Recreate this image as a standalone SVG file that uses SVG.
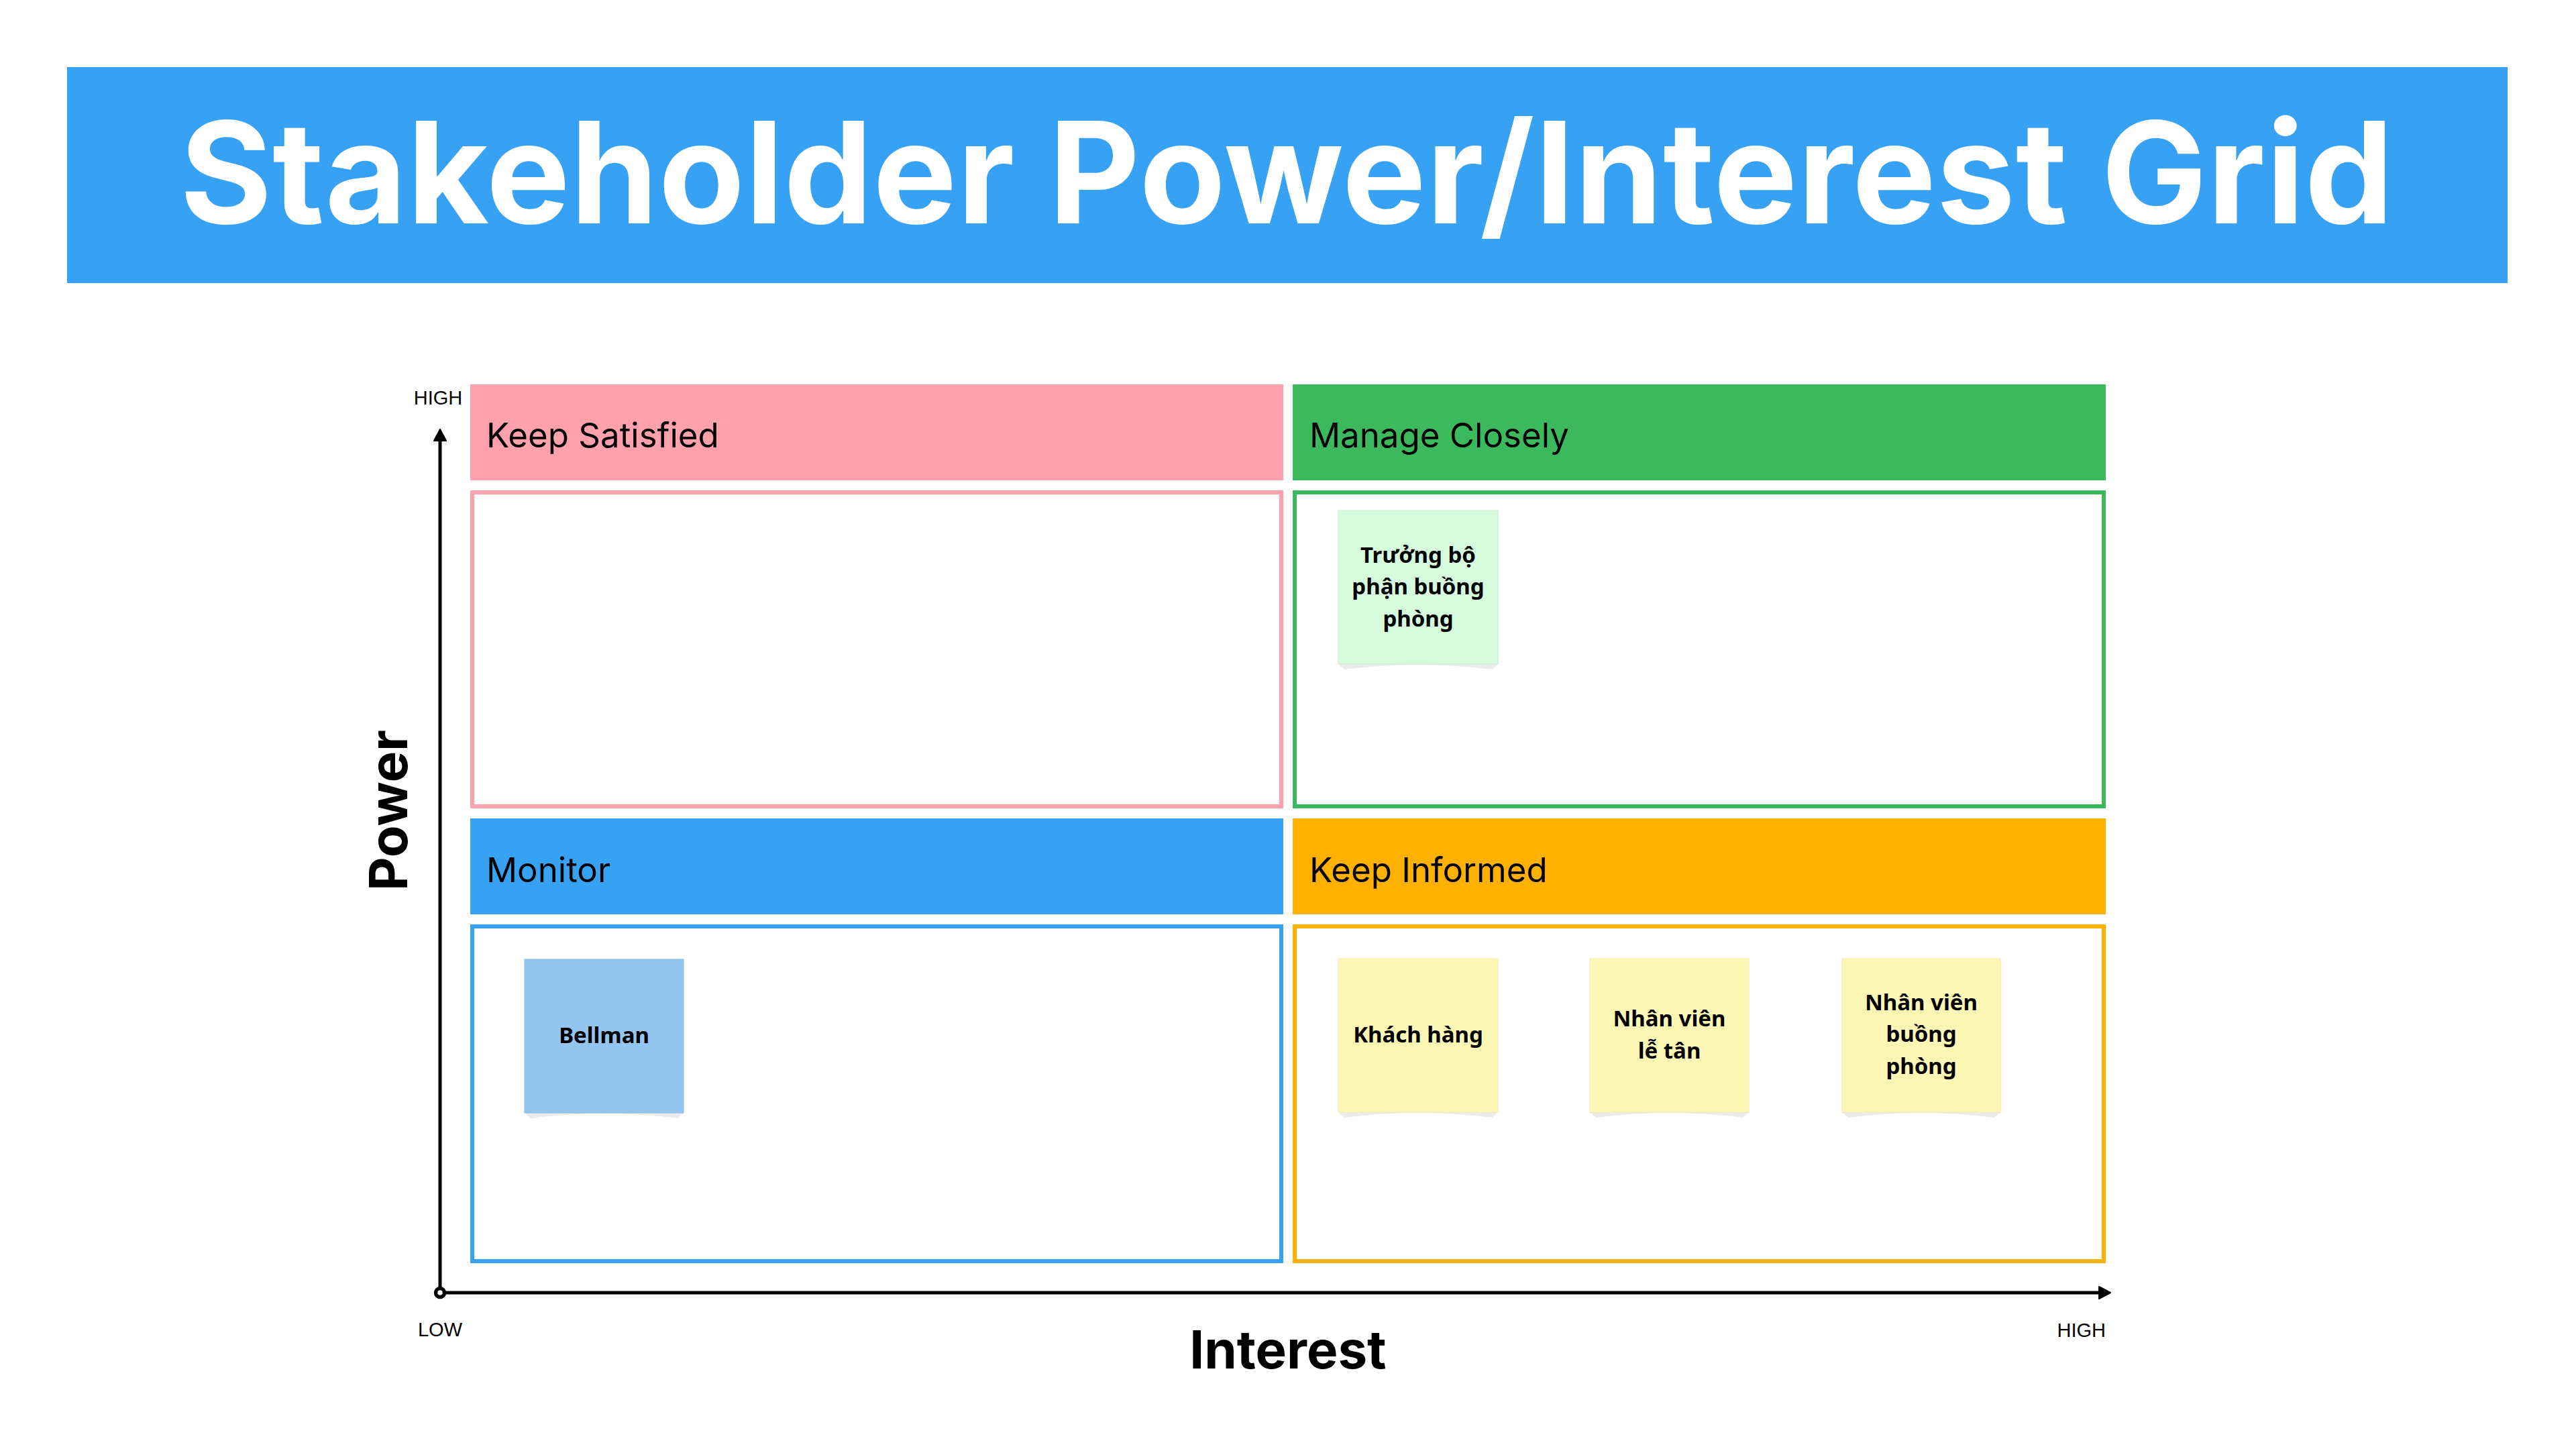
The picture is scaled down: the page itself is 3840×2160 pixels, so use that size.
<svg xmlns="http://www.w3.org/2000/svg" width="3840" height="2160" viewBox="0 0 3840 2160">
<defs>
<style>
.title{font-family:Inter,"Liberation Sans",sans-serif;font-weight:700;font-size:210px;fill:#ffffff}
.head{font-family:Inter,"Liberation Sans",sans-serif;font-weight:400;font-size:51px;fill:#000000}
.axisname{font-family:Inter,"Liberation Sans",sans-serif;font-weight:700;font-size:78px;fill:#000000}
.tick{font-family:"Liberation Sans",Arial,sans-serif;font-size:29px;fill:#000000}
.note{font-family:"Noto Sans","Open Sans",sans-serif;font-weight:700;font-size:33px;fill:#000000;text-anchor:middle}
.box{fill:#ffffff;stroke-width:6}
.shadow{fill:#ebebeb}
.axis{stroke:#000000;stroke-width:5;fill:none}
</style>
<marker id="arrow" markerUnits="userSpaceOnUse" markerWidth="22" markerHeight="22" viewBox="0 0 22 22" refX="9" refY="11" orient="auto">
<path d="M2,2 L19,11 L2,20 Z" fill="#000000" stroke="#000000" stroke-width="2" stroke-linejoin="round"/>
</marker>
</defs>
<rect width="3840" height="2160" fill="#ffffff"/>

<g id="banner">
<rect x="100" y="100" width="3638" height="322" fill="#37a1f3"/>
<text class="title" x="1918" y="333" text-anchor="middle" textLength="3300">Stakeholder Power/Interest Grid</text>
</g>

<g id="keep-satisfied">
<rect x="701" y="573" width="1212" height="143" fill="#ffa1ad"/>
<text class="head" x="725" y="667">Keep Satisfied</text>
<rect class="box" x="704" y="734" width="1206" height="468" stroke="#ffa1ad"/>
</g>

<g id="manage-closely">
<rect x="1927" y="573" width="1212" height="143" fill="#3cb95d"/>
<text class="head" x="1952" y="667">Manage Closely</text>
<rect class="box" x="1930" y="734" width="1206" height="468" stroke="#3cb95d"/>
</g>

<g id="monitor">
<rect x="701" y="1220" width="1212" height="143" fill="#37a1f3"/>
<text class="head" x="725" y="1315">Monitor</text>
<rect class="box" x="704" y="1381" width="1206" height="499" stroke="#37a1f3"/>
</g>

<g id="keep-informed">
<rect x="1927" y="1220" width="1212" height="143" fill="#ffb100"/>
<text class="head" x="1952" y="1315">Keep Informed</text>
<rect class="box" x="1930" y="1381" width="1206" height="499" stroke="#ffb100"/>
</g>

<g id="note-truong-bo-phan">
<path class="shadow" d="M1995,990 L2233,990 L2224,998 Q2114,984 2004,998 Z"/>
<rect x="1995" y="761" width="238" height="229" fill="#d6fbdc" stroke="#c9efd0" stroke-width="1"/>
<text class="note" x="2114" y="839">Trưởng bộ</text>
<text class="note" x="2114" y="886">phận buồng</text>
<text class="note" x="2114" y="934">phòng</text>
</g>

<g id="note-bellman">
<path class="shadow" d="M782,1659 L1019,1659 L1010,1667 Q900,1653 791,1667 Z"/>
<rect x="782" y="1430" width="237" height="229" fill="#93c5ee" stroke="#88b9e2" stroke-width="1"/>
<text class="note" x="900.5" y="1555">Bellman</text>
</g>

<g id="note-khach-hang">
<path class="shadow" d="M1995,1658 L2233,1658 L2224,1666 Q2114,1652 2004,1666 Z"/>
<rect x="1995" y="1429" width="238" height="229" fill="#fcf7b5" stroke="#f3edaa" stroke-width="1"/>
<text class="note" x="2114" y="1554">Khách hàng</text>
</g>

<g id="note-le-tan">
<path class="shadow" d="M2370,1658 L2607,1658 L2598,1666 Q2488,1652 2379,1666 Z"/>
<rect x="2370" y="1429" width="237" height="229" fill="#fcf7b5" stroke="#f3edaa" stroke-width="1"/>
<text class="note" x="2488.5" y="1530">Nhân viên</text>
<text class="note" x="2488.5" y="1578">lễ tân</text>
</g>

<g id="note-buong-phong">
<path class="shadow" d="M2746,1658 L2982,1658 L2973,1666 Q2864,1652 2755,1666 Z"/>
<rect x="2746" y="1429" width="236" height="229" fill="#fcf7b5" stroke="#f3edaa" stroke-width="1"/>
<text class="note" x="2864" y="1506">Nhân viên</text>
<text class="note" x="2864" y="1553">buồng</text>
<text class="note" x="2864" y="1601">phòng</text>
</g>

<g id="connectors">
<line class="axis" x1="656" y1="1927" x2="656" y2="650" marker-end="url(#arrow)"/>
<line class="axis" x1="656" y1="1927" x2="3136" y2="1927" marker-end="url(#arrow)"/>
<circle cx="656" cy="1927" r="6.5" fill="#ffffff" stroke="#000000" stroke-width="5.5"/>
</g>

<g id="axis-labels">
<text class="tick" x="653" y="603" text-anchor="middle">HIGH</text>
<text class="tick" x="656" y="1992" text-anchor="middle">LOW</text>
<text class="tick" x="3139" y="1993" text-anchor="end">HIGH</text>
<text class="axisname" x="0" y="0" text-anchor="middle" transform="translate(607,1208) rotate(-90)">Power</text>
<text class="axisname" x="1920" y="2040" text-anchor="middle">Interest</text>
</g>
</svg>
